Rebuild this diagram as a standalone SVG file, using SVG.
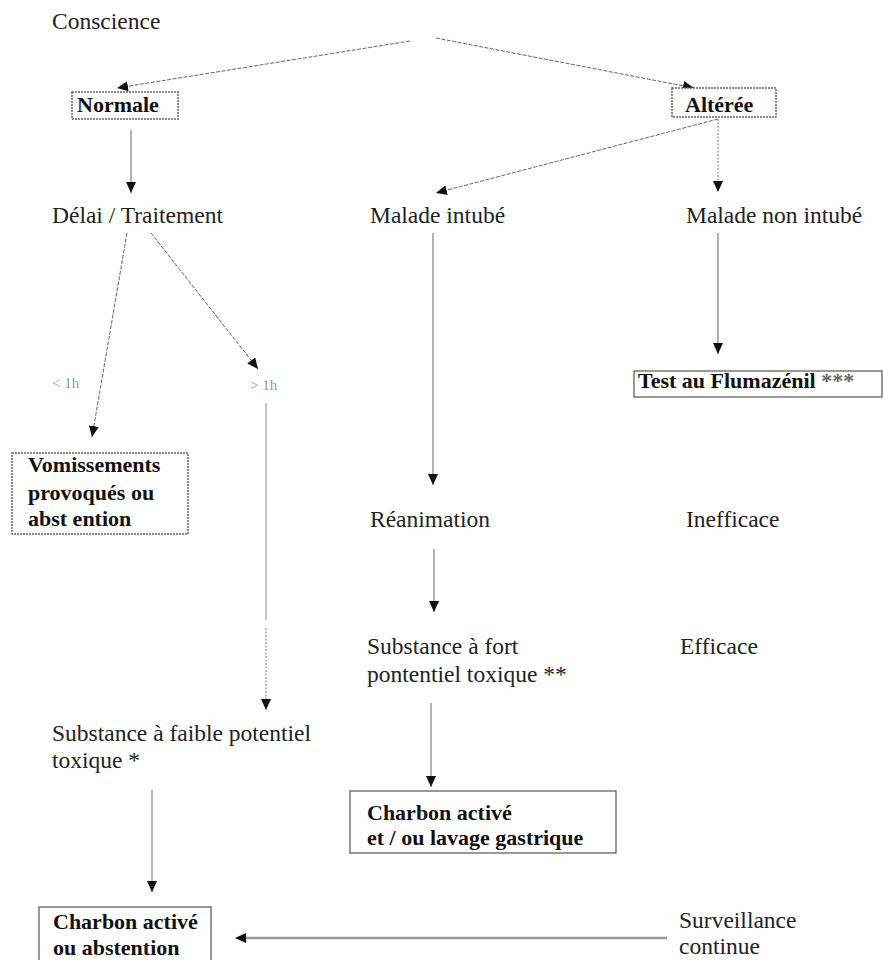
<svg xmlns="http://www.w3.org/2000/svg" width="883" height="960" viewBox="0 0 883 960">
<defs>
<marker id="ah" markerUnits="userSpaceOnUse" markerWidth="12" markerHeight="11" refX="11" refY="5" orient="auto">
<path d="M0,0 L11,5 L0,10 z" fill="#111"/>
</marker>
<style>
.t{font-family:"Liberation Serif","Times New Roman",serif;font-size:23.5px;fill:#222}
.b{font-family:"Liberation Serif","Times New Roman",serif;font-size:22px;font-weight:bold;fill:#111}
.s{font-family:"Liberation Serif","Times New Roman",serif;font-size:15px;fill:#999}
.box{fill:#fff;stroke:#555;stroke-width:1.2}
.dbox{fill:#fff;stroke:#666;stroke-width:1.5;stroke-dasharray:2,1}
.c{stroke:#666;stroke-width:1;fill:none;marker-end:url(#ah)}
.d{stroke:#666;stroke-width:1;fill:none;stroke-dasharray:4,1.5;marker-end:url(#ah)}
.o{stroke:#777;stroke-width:1;fill:none;stroke-dasharray:2,1.5;marker-end:url(#ah)}
</style>
</defs>
<rect width="883" height="960" fill="#fff"/>
<g id="connectors">
<line class="d" x1="410" y1="41" x2="117" y2="88"/>
<line class="d" x1="436" y1="38" x2="694" y2="88"/>
<line class="c" x1="131" y1="130" x2="131" y2="193"/>
<line class="d" x1="718" y1="119" x2="436" y2="193"/>
<line class="o" x1="718" y1="119" x2="718" y2="192"/>
<line class="d" x1="127" y1="233" x2="92" y2="437"/>
<line class="d" x1="151" y1="233" x2="258" y2="369"/>
<line class="c" x1="433" y1="233" x2="433" y2="485"/>
<line class="c" x1="718" y1="233" x2="718" y2="354"/>
<line stroke="#888" stroke-width="1" x1="266" y1="403" x2="266" y2="620"/>
<line class="o" x1="266" y1="628" x2="266" y2="710"/>
<line class="c" x1="434" y1="549" x2="434" y2="612"/>
<line class="c" x1="431" y1="703" x2="431" y2="787"/>
<line class="c" x1="152" y1="790" x2="152" y2="892"/>
<line stroke="#999" stroke-width="2.5" x1="667" y1="938" x2="245" y2="938"/>
<path d="M235,938 L246,933 L246,943 z" fill="#111"/>
</g>
<g id="n-conscience"><text class="t" x="52" y="29">Conscience</text></g>
<g id="n-normale"><rect class="dbox" x="72" y="92" width="106" height="27"/><text class="b" x="77" y="112">Normale</text></g>
<g id="n-alteree"><rect class="dbox" x="672" y="88" width="104" height="29"/><text class="b" x="685" y="112">Altérée</text></g>
<g id="n-delai"><text class="t" x="52" y="223">Délai / Traitement</text></g>
<g id="n-intube"><text class="t" x="370" y="223">Malade intubé</text></g>
<g id="n-nonintube"><text class="t" x="686" y="223">Malade non intubé</text></g>
<g id="l-lt1h"><text class="s" x="52" y="388">&lt; 1h</text></g>
<g id="l-gt1h"><text class="s" x="250" y="390">&gt; 1h</text></g>
<g id="n-flumazenil"><rect class="box" x="634" y="371" width="248" height="26"/><text class="b" x="638" y="388">Test au Flumazénil <tspan fill="#666">***</tspan></text></g>
<g id="n-vomissements"><rect class="dbox" x="12" y="453" width="176" height="81"/>
<text class="b" x="28" y="472">Vomissements</text>
<text class="b" x="28" y="500">provoqués ou</text>
<text class="b" x="28" y="526">abst ention</text></g>
<g id="n-reanimation"><text class="t" x="370" y="527">Réanimation</text></g>
<g id="n-inefficace"><text class="t" x="686" y="527">Inefficace</text></g>
<g id="n-fort"><text class="t" x="367" y="654">Substance à fort</text><text class="t" x="367" y="682">pontentiel toxique **</text></g>
<g id="n-efficace"><text class="t" x="680" y="654">Efficace</text></g>
<g id="n-faible"><text class="t" x="52" y="741">Substance à faible potentiel</text><text class="t" x="52" y="768">toxique *</text></g>
<g id="n-charbon-lavage"><rect class="box" x="350" y="791" width="266" height="62"/>
<text class="b" x="367" y="820">Charbon activé</text>
<text class="b" x="367" y="845">et / ou lavage gastrique</text></g>
<g id="n-charbon-abst"><rect class="box" x="39" y="907" width="172" height="60"/>
<text class="b" x="53" y="929">Charbon activé</text>
<text class="b" x="53" y="955">ou abstention</text></g>
<g id="n-surveillance"><text class="t" x="679" y="928">Surveillance</text><text class="t" x="679" y="954">continue</text></g>
</svg>
